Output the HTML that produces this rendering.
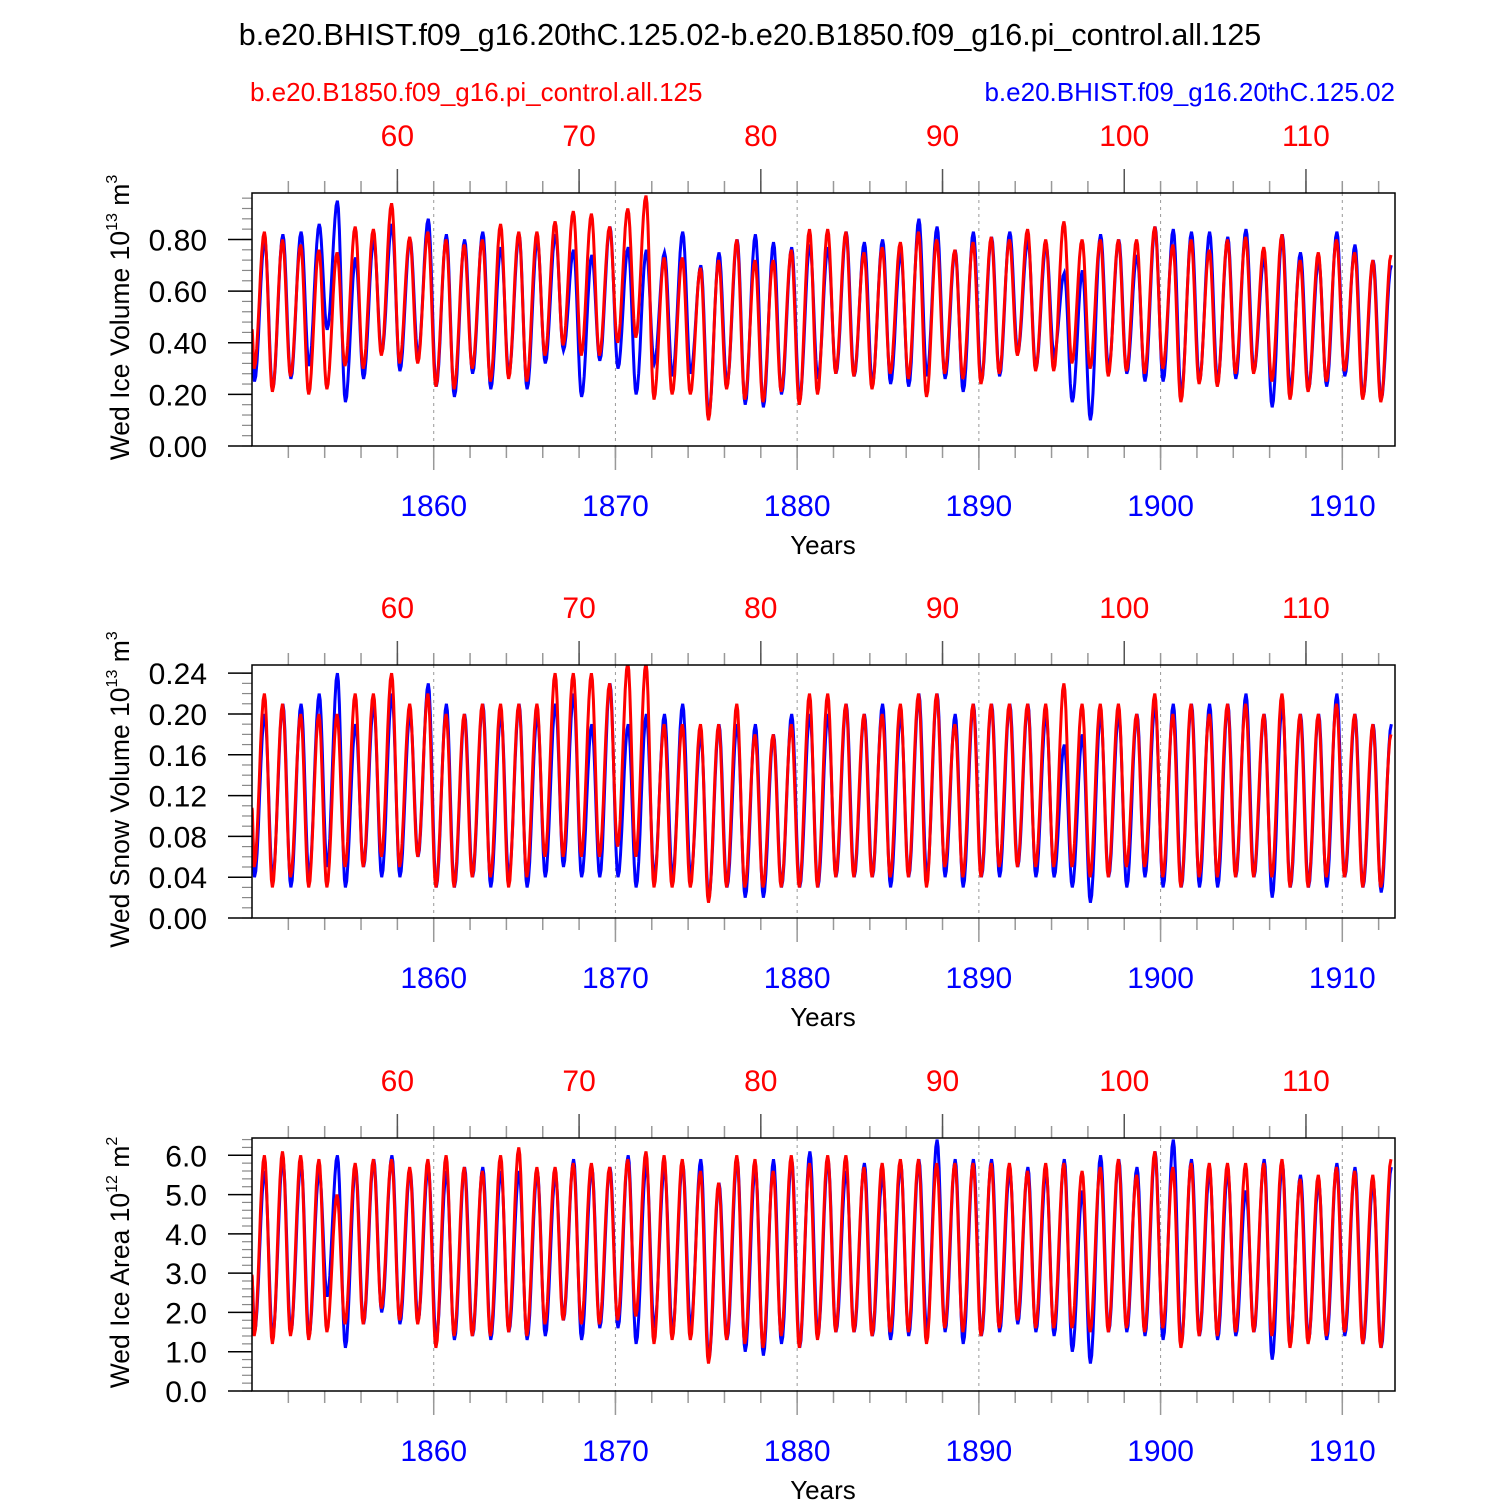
<!DOCTYPE html>
<html><head><meta charset="utf-8"><style>
html,body{margin:0;padding:0;background:#fff}
svg{display:block;font-family:"Liberation Sans",sans-serif}
</style></head><body>
<svg id="chart" width="1500" height="1500" viewBox="0 0 1500 1500" xmlns="http://www.w3.org/2000/svg">
<text x="750" y="45" font-size="30.5" text-anchor="middle">b.e20.BHIST.f09_g16.20thC.125.02-b.e20.B1850.f09_g16.pi_control.all.125</text>
<text x="250" y="101" font-size="26" fill="#ff0000">b.e20.B1850.f09_g16.pi_control.all.125</text>
<text x="1395" y="101" font-size="26" fill="#0000ff" text-anchor="end">b.e20.BHIST.f09_g16.20thC.125.02</text>
</svg>
<script>
// Years 1850..1912 (63 years). Annual max / min.
const years = Array.from({length:63},(_,i)=>1850+i);
const iceBlueMax=[0.80,0.82,0.83,0.86,0.95,0.73,0.80,0.86,0.80,0.88,0.82,0.80,0.83,0.77,0.82,0.80,0.82,0.76,0.74,0.85,0.77,0.76,0.75,0.83,0.70,0.75,0.80,0.82,0.79,0.77,0.78,0.77,0.83,0.79,0.80,0.75,0.88,0.85,0.76,0.83,0.81,0.83,0.80,0.78,0.67,0.68,0.82,0.80,0.74,0.85,0.84,0.83,0.83,0.81,0.84,0.73,0.82,0.75,0.72,0.83,0.78,0.72,0.70];
const iceRedMax=[0.83,0.80,0.78,0.76,0.75,0.85,0.84,0.94,0.81,0.83,0.80,0.78,0.80,0.86,0.83,0.83,0.87,0.91,0.90,0.85,0.92,0.97,0.73,0.73,0.69,0.72,0.80,0.72,0.72,0.76,0.84,0.84,0.83,0.75,0.77,0.79,0.83,0.80,0.76,0.79,0.81,0.80,0.84,0.80,0.87,0.80,0.80,0.80,0.80,0.85,0.78,0.80,0.76,0.80,0.81,0.77,0.82,0.72,0.75,0.80,0.75,0.72,0.74];
const iceBlueMin=[0.25,0.22,0.26,0.31,0.45,0.17,0.26,0.36,0.29,0.35,0.23,0.19,0.28,0.22,0.28,0.22,0.32,0.37,0.19,0.33,0.30,0.20,0.32,0.27,0.28,0.12,0.24,0.16,0.15,0.20,0.18,0.26,0.28,0.27,0.24,0.24,0.23,0.27,0.26,0.21,0.25,0.27,0.36,0.30,0.35,0.17,0.10,0.30,0.28,0.25,0.25,0.20,0.25,0.25,0.26,0.29,0.15,0.22,0.22,0.23,0.27,0.19,0.18];
const iceRedMin=[0.30,0.21,0.27,0.20,0.22,0.31,0.30,0.35,0.32,0.32,0.23,0.22,0.30,0.25,0.26,0.25,0.35,0.39,0.35,0.35,0.40,0.42,0.18,0.20,0.20,0.10,0.22,0.18,0.17,0.21,0.16,0.20,0.28,0.27,0.22,0.28,0.26,0.19,0.28,0.26,0.24,0.28,0.35,0.29,0.29,0.32,0.30,0.27,0.29,0.28,0.30,0.17,0.24,0.23,0.28,0.28,0.25,0.18,0.21,0.25,0.29,0.18,0.17];
const snowBlueMax=[0.20,0.21,0.21,0.22,0.24,0.19,0.21,0.22,0.20,0.23,0.21,0.20,0.21,0.20,0.21,0.20,0.21,0.22,0.19,0.23,0.19,0.20,0.20,0.21,0.18,0.19,0.19,0.19,0.18,0.20,0.20,0.20,0.21,0.20,0.21,0.20,0.22,0.22,0.20,0.21,0.21,0.21,0.21,0.20,0.17,0.18,0.20,0.20,0.20,0.21,0.21,0.21,0.21,0.21,0.22,0.20,0.21,0.20,0.20,0.22,0.20,0.19,0.19];
const snowRedMax=[0.22,0.21,0.20,0.20,0.20,0.22,0.22,0.24,0.21,0.22,0.20,0.20,0.21,0.21,0.21,0.21,0.24,0.24,0.24,0.23,0.25,0.25,0.19,0.19,0.19,0.19,0.21,0.18,0.18,0.19,0.22,0.22,0.21,0.20,0.20,0.21,0.22,0.22,0.19,0.21,0.21,0.21,0.21,0.21,0.23,0.21,0.21,0.21,0.20,0.22,0.20,0.21,0.20,0.21,0.21,0.20,0.22,0.20,0.20,0.21,0.20,0.19,0.18];
const snowBlueMin=[0.04,0.04,0.03,0.04,0.05,0.03,0.05,0.04,0.04,0.06,0.03,0.03,0.04,0.03,0.04,0.03,0.04,0.05,0.04,0.04,0.04,0.03,0.04,0.04,0.04,0.02,0.03,0.02,0.02,0.03,0.03,0.03,0.04,0.04,0.04,0.03,0.04,0.04,0.04,0.03,0.04,0.04,0.05,0.04,0.04,0.03,0.015,0.04,0.03,0.04,0.03,0.03,0.03,0.03,0.04,0.04,0.02,0.03,0.03,0.03,0.04,0.03,0.025];
const snowRedMin=[0.05,0.03,0.04,0.03,0.03,0.05,0.05,0.06,0.05,0.06,0.03,0.03,0.04,0.04,0.03,0.04,0.06,0.06,0.06,0.06,0.07,0.06,0.03,0.03,0.03,0.015,0.03,0.03,0.03,0.03,0.03,0.03,0.04,0.04,0.04,0.04,0.04,0.03,0.05,0.04,0.04,0.05,0.05,0.05,0.05,0.05,0.04,0.04,0.05,0.05,0.04,0.03,0.04,0.04,0.04,0.04,0.04,0.03,0.03,0.04,0.04,0.03,0.03];
const areaBlueMax=[5.6,5.9,5.8,5.6,6.0,5.7,5.9,6.0,5.6,5.7,5.6,5.7,5.7,5.6,5.6,5.6,5.5,5.9,5.7,5.7,6.0,5.8,5.7,5.8,5.9,5.3,5.9,5.7,5.9,5.9,6.1,5.9,5.6,5.8,5.5,5.8,5.9,6.4,5.9,5.9,5.9,5.6,5.7,5.6,5.9,5.1,6.0,5.9,5.7,6.1,6.4,5.9,5.6,5.6,5.1,5.9,5.8,5.5,5.3,5.8,5.7,5.3,5.7];
const areaRedMax=[6.0,6.1,6.0,5.9,5.0,5.8,5.9,5.9,5.7,5.9,6.0,5.7,5.6,6.0,6.2,5.7,5.7,5.8,5.8,5.7,5.9,6.1,6.0,5.9,5.6,5.3,6.0,5.9,5.6,6.0,5.8,6.0,6.0,5.7,5.8,5.9,5.9,5.8,5.8,5.8,5.8,5.8,5.6,5.8,5.8,5.6,5.7,5.9,5.5,6.1,5.7,5.8,5.8,5.8,5.8,5.8,5.9,5.4,5.5,5.7,5.6,5.5,5.9];
const areaBlueMin=[1.5,1.4,1.5,1.4,2.4,1.1,1.7,2.0,1.7,1.8,1.3,1.3,1.4,1.3,1.5,1.3,1.4,1.8,1.3,1.6,1.6,1.2,1.6,1.5,1.6,0.8,1.3,1.0,0.9,1.2,1.1,1.4,1.5,1.5,1.4,1.3,1.4,1.5,1.5,1.2,1.4,1.5,1.7,1.5,1.4,1.0,0.7,1.5,1.5,1.4,1.3,1.2,1.4,1.3,1.4,1.5,0.8,1.3,1.3,1.3,1.4,1.2,1.1];
const areaRedMin=[1.4,1.2,1.4,1.3,1.5,1.7,1.7,2.1,1.8,1.7,1.1,1.4,1.4,1.4,1.5,1.4,1.7,1.8,1.7,1.7,1.8,1.9,1.2,1.3,1.3,0.7,1.3,1.2,1.1,1.4,1.1,1.3,1.5,1.5,1.4,1.5,1.5,1.2,1.6,1.5,1.4,1.6,1.8,1.6,1.6,1.6,1.5,1.5,1.6,1.5,1.6,1.1,1.4,1.4,1.5,1.5,1.4,1.1,1.2,1.4,1.5,1.2,1.1];
const bottomTickLabels=["1860","1870","1880","1890","1900","1910"];
const topTickLabels=["60","70","80","90","100","110"];

const NS="http://www.w3.org/2000/svg";
const svg=document.getElementById('chart');
const X0=252,X1=1395,Y0YR=1850.0,Y1YR=1912.9;
function xs(y){return X0+(y-Y0YR)/(Y1YR-Y0YR)*(X1-X0);}
function mk(tag,attrs,parent){const e=document.createElementNS(NS,tag);for(const k in attrs)e.setAttribute(k,attrs[k]);(parent||svg).appendChild(e);return e;}

const panels=[
 {top:193,ymin:0,ymax:0.98,major:0.2,minor:0.04,dec:2,title:"Wed Ice Volume 10",sup:"13",unit:" m",usup:"3",bmax:iceBlueMax,bmin:iceBlueMin,rmax:iceRedMax,rmin:iceRedMin,name:"ice-volume"},
 {top:665,ymin:0,ymax:0.248,major:0.04,minor:0.01,dec:2,title:"Wed Snow Volume 10",sup:"13",unit:" m",usup:"3",bmax:snowBlueMax,bmin:snowBlueMin,rmax:snowRedMax,rmin:snowRedMin,name:"snow-volume"},
 {top:1138,ymin:0,ymax:6.44,major:1,minor:0.2,dec:1,title:"Wed Ice Area 10",sup:"12",unit:" m",usup:"2",bmax:areaBlueMax,bmin:areaBlueMin,rmax:areaRedMax,rmin:areaRedMin,name:"ice-area"}
];
const H=253;

function seriesPath(maxA,minA,ys,shift){
  const pts=[];
  for(let i=0;i<years.length;i++){
    pts.push([years[i]+0.12+shift,minA[i]]);
    pts.push([years[i]+0.68+shift,maxA[i]]);
  }
  let d="";
  const start=[Y0YR,(minA[0]+maxA[0])/2*0.8];
  d+="M"+xs(start[0]).toFixed(1)+","+ys(start[1]).toFixed(1);
  let prev=start;
  for(const p of pts){
    for(let s=1;s<=8;s++){
      const t=s/8, x=prev[0]+(p[0]-prev[0])*t;
      if(x>Y1YR) break;
      const v=prev[1]+(p[1]-prev[1])*(1-Math.cos(Math.PI*t))/2;
      d+="L"+xs(x).toFixed(1)+","+ys(v).toFixed(1);
    }
    prev=p;
  }
  return d;
}

panels.forEach(P=>{
  const g=mk('g',{});
  
  
  const bot=P.top+H;
  const ys=v=>bot-(v-P.ymin)/(P.ymax-P.ymin)*H;
  bottomTickLabels.forEach(l=>{const x=xs(+l);
    const gl=mk('line',{x1:x,x2:x,y1:P.top,y2:bot,stroke:'#999','stroke-width':1,'stroke-dasharray':'3,4'},g);
    
    
  });
  for(let yr=1852;yr<=1912;yr+=2){const x=xs(yr);
    mk('line',{x1:x,x2:x,y1:P.top-12,y2:P.top,stroke:'#999','stroke-width':1.5},g);
    mk('line',{x1:x,x2:x,y1:bot,y2:bot+12,stroke:'#999','stroke-width':1.5},g);
  }
  bottomTickLabels.forEach(l=>{const x=xs(+l);
    mk('line',{x1:x,x2:x,y1:bot,y2:bot+24,stroke:'#999','stroke-width':1.5},g);
    const t=mk('text',{x:x,y:bot+70,'font-size':30,fill:'#0000ff','text-anchor':'middle'},g);t.textContent=l;
    
    
  });
  topTickLabels.forEach(l=>{const x=xs(+l+1798);
    mk('line',{x1:x,x2:x,y1:P.top-24,y2:P.top,stroke:'#555','stroke-width':1.5},g);
    const t=mk('text',{x:x,y:P.top-47,'font-size':30,fill:'#ff0000','text-anchor':'middle'},g);t.textContent=l;
    
    
  });
  for(let v=0;v<=P.ymax+1e-9;v+=P.minor){const y=ys(v);
    mk('line',{x1:X0-10,x2:X0,y1:y,y2:y,stroke:'#888','stroke-width':1.2},g);}
  for(let v=0;v<=P.ymax+1e-9;v+=P.major){const y=ys(v);
    mk('line',{x1:X0-24,x2:X0,y1:y,y2:y,stroke:'#000','stroke-width':1.5},g);
    const t=mk('text',{x:207,y:y+11,'font-size':30,'text-anchor':'end'},g);t.textContent=v.toFixed(P.dec);
    
    
  }
  const clip=mk('clipPath',{id:'c'+P.name},g);mk('rect',{x:X0,y:P.top,width:X1-X0,height:H},clip);
  const bl=mk('path',{d:seriesPath(P.bmax,P.bmin,ys,0.02),fill:'none',stroke:'#0000ff','stroke-width':3,'clip-path':'url(#c'+P.name+')'},g);
  
  
  const rl=mk('path',{d:seriesPath(P.rmax,P.rmin,ys,0),fill:'none',stroke:'#ff0000','stroke-width':3,'clip-path':'url(#c'+P.name+')'},g);
  
  
  mk('rect',{x:X0,y:P.top,width:X1-X0,height:H,fill:'none',stroke:'#000','stroke-width':1.5},g);
  const tt=mk('text',{transform:`translate(129,${P.top+H/2-2}) rotate(-90)`,'font-size':26.5,'text-anchor':'middle'},g);
  
  
  tt.innerHTML=`${P.title}<tspan font-size="16" dy="-12">${P.sup}</tspan><tspan dy="12">${P.unit}</tspan><tspan font-size="16" dy="-12">${P.usup}</tspan>`;
  const xt=mk('text',{x:823,y:bot+108,'font-size':26,'text-anchor':'middle'},g);xt.textContent='Years';
  
  
});
</script>
</body></html>
